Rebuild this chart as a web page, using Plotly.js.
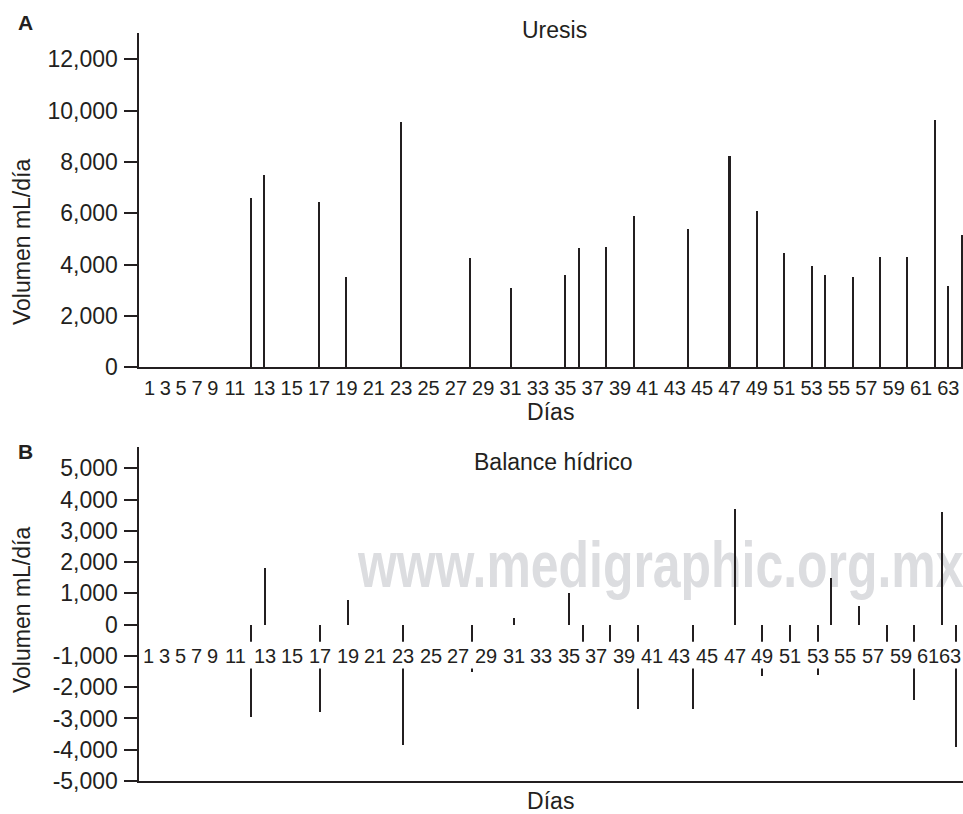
<!DOCTYPE html>
<html>
<head>
<meta charset="utf-8">
<script src="https://cdn.plot.ly/plotly-3.0.1.min.js"></script>
<style>
html,body{margin:0;padding:0;background:#fff;}
#chart{width:963px;height:814px;}
</style>
</head>
<body>
<div id="chart"></div>
<script>
// ---------- data ----------
const uresisDays   = [12,13,17,19,23,28,31,35,36,38,40,44,47,49,51,53,54,56,58,60,62,63,64];
const uresisValues = [6600,7500,6450,3500,9550,4250,3100,3600,4650,4700,5900,5400,8250,6100,4450,3950,3600,3500,4300,4300,9650,3150,5150];

const balanceDays   = [12,13,17,19,23,28,31,35,36,38,40,44,47,49,51,53,54,56,58,60,62,63];
const balanceValues = [-2950,1800,-2800,800,-3850,-1500,200,1000,-1000,-1000,-2700,-2700,3700,-1650,-1000,-1600,1500,600,-1000,-2400,3600,-3900];

const dayTicks     = [1,3,5,7,9,11,13,15,17,19,21,23,25,27,29,31,33,35,37,39,41,43,45,47,49,51,53,55,57,59,61,63];
const uresisTicks  = [0,2000,4000,6000,8000,10000,12000];
const balanceTicks = [-5000,-4000,-3000,-2000,-1000,0,1000,2000,3000,4000,5000];

const titleA = 'Uresis';
const titleB = 'Balance hídrico';
const yTitle = 'Volumen mL/día';
const xTitle = 'Días';
const watermark = 'www.medigraphic.org.mx';

// ---------- layout helpers ----------
const W = 963, H = 814;
const INK = '#231f20';
const FONT = 'Liberation Sans, Arial, Helvetica, sans-serif';
const FS = 23;      // titles, y tick labels
const FX = 20;      // day labels
const WM_SX = 0.78; // horizontal squeeze of the watermark (condensed face)
const px = v => v / W;
const py = v => 1 - v / H;
// the labels 1..11 are squeezed together before day 12 in the original figure
const labelPos = d => d <= 11 ? 4.6 + 0.58 * (d - 1) + (d > 9 ? 0.45 : 0) : d;
const fmt = v => v.toLocaleString('en-US');
const X2_RANGE = [3.86, 63.52];

const traces = [
  {type:'bar', x: uresisDays, y: uresisValues, xaxis:'x', yaxis:'y',
   width: 0.15, marker:{color: INK, line:{width:0}}, hoverinfo:'x+y', showlegend:false},
  {type:'bar', x: balanceDays, y: balanceValues, xaxis:'x2', yaxis:'y2',
   width: 0.15, marker:{color: INK, line:{width:0}}, hoverinfo:'x+y', showlegend:false}
];

const C = {xanchor:'center', yanchor:'middle', showarrow:false, xref:'paper', yref:'paper'};
const annotations = [
  Object.assign({text:'<b>A</b>', x:px(25), y:py(23), font:{size:21, color:INK}}, C),
  Object.assign({text:'<b>B</b>', x:px(25), y:py(451), font:{size:21, color:INK}}, C),
  Object.assign({text:titleA, x:px(554), y:py(30), font:{size:FS, color:INK}}, C),
  Object.assign({text:titleB, x:px(553), y:py(462), font:{size:FS, color:INK}}, C),
  Object.assign({text:yTitle, x:px(22), y:py(242), textangle:-90, font:{size:FS, color:INK}}, C),
  Object.assign({text:yTitle, x:px(22), y:py(610), textangle:-90, font:{size:FS, color:INK}}, C)
];
// day labels of panel B sit in a white band at the -1,000 level
dayTicks.forEach((d, i) => {
  const last = i === dayTicks.length - 1;
  annotations.push({
    text:String(d), xref:'x2', yref:'y2', x: last ? X2_RANGE[1] : labelPos(d), y:-1000, showarrow:false,
    xanchor: last ? 'right' : 'center', yanchor:'middle', font:{size:FX, color:INK}
  });
});

const shapes = [
  {type:'rect', xref:'paper', yref:'paper', x0:px(355), x1:1.4, y0:py(590), y1:py(528),
   fillcolor:'rgba(0,0,0,0)', line:{width:0}, layer:'below',
   label:{text:watermark, textposition:'middle left', padding:0,
          font:{family:FONT, size:64, color:'#dcdde0', weight:'bold'}}},
  {type:'rect', xref:'x2 domain', yref:'y2', x0:0.004, x1:1, y0:-550, y1:-1400,
   fillcolor:'#ffffff', line:{width:0}, layer:'above'}
];

const layout = {
  width: W, height: H,
  margin:{l:0, r:0, t:0, b:0},
  paper_bgcolor:'#ffffff', plot_bgcolor:'#ffffff',
  font:{family:FONT, size:FS, color:INK},
  showlegend:false,
  bargap:0,
  xaxis:{domain:[px(138.5),1], range:[3.80,64.07], anchor:'y',
         showline:true, linewidth:2, linecolor:INK, showgrid:false, zeroline:false,
         ticks:'', tickmode:'array', tickvals:dayTicks.map(labelPos), ticktext:dayTicks.map(String),
         tickangle:0, ticklabelstandoff:2, tickfont:{size:FX, color:INK},
         title:{text:xTitle, font:{size:FS, color:INK}, standoff:0}, automargin:false, fixedrange:true},
  yaxis:{domain:[py(367.3), py(32.7)], range:[0,13035], anchor:'x',
         showline:true, linewidth:2, linecolor:INK, showgrid:false, zeroline:false,
         ticks:'outside', ticklen:13, tickwidth:2, tickcolor:INK,
         tickmode:'array', tickvals:uresisTicks, ticktext:uresisTicks.map(fmt),
         ticklabelstandoff:1, tickfont:{size:FS, color:INK}, automargin:false, fixedrange:true},
  xaxis2:{domain:[px(138.5),1], range:X2_RANGE, anchor:'y2',
         showline:true, linewidth:2, linecolor:INK, showgrid:false, zeroline:false,
         ticks:'', showticklabels:false,
         title:{text:xTitle, font:{size:FS, color:INK}, standoff:12}, automargin:false, fixedrange:true},
  yaxis2:{domain:[py(781), py(446.7)], range:[-5000,5690], anchor:'x2',
         showline:true, linewidth:2, linecolor:INK, showgrid:false, zeroline:false,
         ticks:'outside', ticklen:13, tickwidth:2, tickcolor:INK,
         tickmode:'array', tickvals:balanceTicks, ticktext:balanceTicks.map(fmt),
         ticklabelstandoff:1, tickfont:{size:FS, color:INK}, automargin:false, fixedrange:true},
  annotations: annotations,
  shapes: shapes
};

Plotly.newPlot('chart', traces, layout, {displayModeBar:false, staticPlot:true}).then(gd => {
  // the original watermark uses a condensed bold face: squeeze it horizontally
  gd.querySelectorAll('text').forEach(t => {
    if (t.textContent === watermark) {
      const x = parseFloat(t.getAttribute('x')) || 0;
      const prev = t.getAttribute('transform') || '';
      t.setAttribute('transform', prev + ' translate(' + x + ' 0) scale(' + WM_SX + ' 1) translate(' + (-x) + ' 0)');
    }
  });
});
</script>
</body>
</html>
